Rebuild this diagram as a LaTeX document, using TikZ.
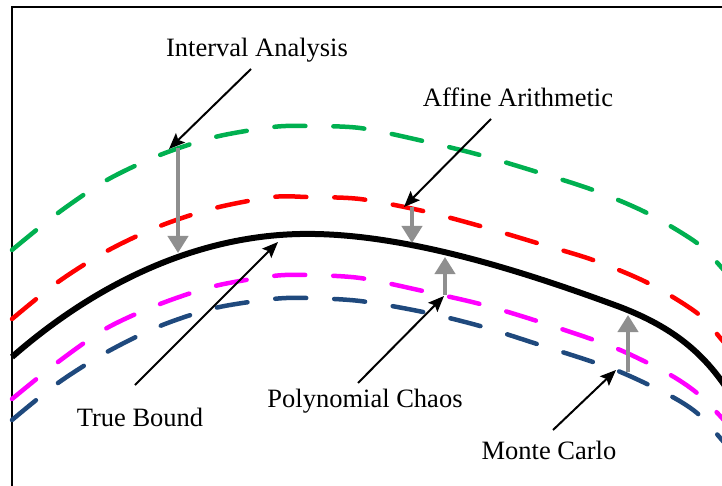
\documentclass[tikz,border=0pt]{standalone}
\usepackage{fontspec}
\setmainfont{Liberation Serif}
\usetikzlibrary{arrows.meta}
\definecolor{cgreen}{HTML}{00B050}
\definecolor{cred}{HTML}{FF0000}
\definecolor{cmag}{HTML}{FF00FF}
\definecolor{cblue}{HTML}{1F497D}
\definecolor{cgray}{HTML}{8F8F8F}
\tikzset{
  bound/.style={line width=4.5pt, line cap=round, dash pattern=on 31pt off 28pt},
  truebound/.style={line width=6pt, black},
  gap/.style={cgray, line width=4pt, -{Triangle[length=17pt,width=20pt]}},
  pointer/.style={black, line width=2pt, -{Stealth[length=16pt,width=13pt,inset=3pt]}},
  lbl/.style={font=\fontsize{26.5}{30}\selectfont, anchor=base, inner sep=0pt}
}
\begin{document}
\begin{tikzpicture}[x=1pt,y=-1pt]
\useasboundingbox (0,0) rectangle (722,486);
\begin{scope}
\clip (0,0) rectangle (722,486);
% frame
\draw[line width=2.7pt] (12,500) -- (12,7) -- (740,7);
% bounds
\draw[bound, cgreen] plot[smooth] coordinates {(12,250) (58,213) (107,180) (160,155) (215,137) (273,127) (307,126) (360,128) (423,141) (480,155) (537,172) (593,190) (647,213) (697,243) (722,268) (740,290)};
\draw[bound, cred] plot[smooth] coordinates {(12,319) (58,282) (107,251) (160,226) (215,208) (273,197) (307,197) (360,199) (423,211) (480,226) (537,243) (593,260) (648,283) (697,313) (722,340) (740,362)};
\draw[bound, cmag] plot[smooth] coordinates {(12,399) (58,362) (107,328) (160,304) (215,286) (273,276) (307,275) (360,278) (423,291) (480,304) (537,321) (613,347) (667,373) (697,393) (722,418) (740,440)};
\draw[bound, cblue] plot[smooth] coordinates {(12,420) (58,383) (107,352) (160,326) (215,308) (273,299) (307,298) (360,301) (423,312) (480,326) (537,344) (613,369) (667,394) (697,413) (722,440) (740,462)};
\draw[truebound] (12,357) .. controls (100,280) and (200,236) .. (300,234)
  .. controls (400,232) and (520,270) .. (620,307)
  .. controls (680,330) and (712,360) .. (740,410);
\end{scope}
% gap arrows
\coordinate (ia1) at (178,148); \coordinate (ia2) at (178,253);
\coordinate (aa1) at (412,207); \coordinate (aa2) at (412,243);
\coordinate (pc1) at (445,295); \coordinate (pc2) at (445,257);
\coordinate (mc1) at (628,372); \coordinate (mc2) at (628,315);
\draw[gap] (ia1) -- (ia2);
\draw[gap] (aa1) -- (aa2);
\draw[gap] (pc1) -- (pc2);
\draw[gap] (mc1) -- (mc2);
% labels
\node[lbl] (lia) at (257,57) {Interval Analysis};
\node[lbl] (laa) at (518,107) {Affine Arithmetic};
\node[lbl] (ltb) at (140,426) {True Bound};
\node[lbl] (lpc) at (365,407) {Polynomial Chaos};
\node[lbl] (lmc) at (549,459) {Monte Carlo};
% pointers
\coordinate (tia) at (251,69); \coordinate (hia) at (169,149);
\coordinate (taa) at (491,119); \coordinate (haa) at (404,207);
\coordinate (ttb) at (135,385); \coordinate (htb) at (278,242);
\coordinate (tpc) at (358,383); \coordinate (hpc) at (444,296);
\coordinate (tmc) at (553,430); \coordinate (hmc) at (616,370);
\draw[pointer] (tia) -- (hia);
\draw[pointer] (taa) -- (haa);
\draw[pointer] (ttb) -- (htb);
\draw[pointer] (tpc) -- (hpc);
\draw[pointer] (tmc) -- (hmc);
\end{tikzpicture}
\end{document}
